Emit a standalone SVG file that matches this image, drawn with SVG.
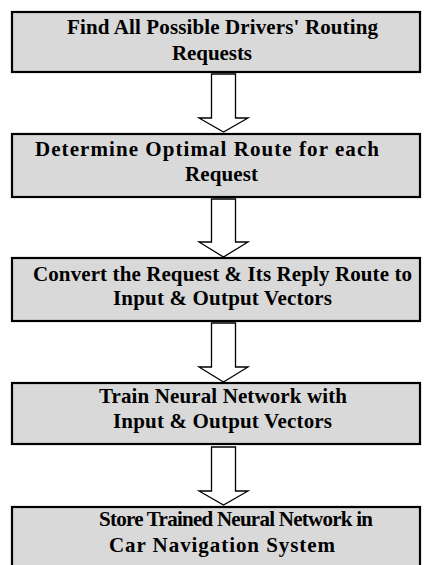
<svg xmlns="http://www.w3.org/2000/svg" width="424" height="565" viewBox="0 0 424 565">
<style>
.box{fill:#d9d9d9;stroke:#000;stroke-width:2.2}
.arr{fill:#fff;stroke:#000;stroke-width:1.3;stroke-linejoin:miter}
</style>
<rect width="424" height="565" fill="#fff"/>
<g id="connectors">
<path class="arr" d="M211.5,74 H235.5 V118 H248 L223.5,132 L199,118 H211.5 Z"/>
<path class="arr" d="M211.5,199 H235.5 V242 H248 L223.5,257 L199,242 H211.5 Z"/>
<path class="arr" d="M211.5,323 H235.5 V367 H248 L223.5,382 L199,367 H211.5 Z"/>
<path class="arr" d="M211.5,447 H235.5 V491 H248 L223.5,505 L199,491 H211.5 Z"/>
</g>
<g font-family="'Liberation Serif', 'Times New Roman', serif" font-weight="bold" font-size="21" fill="#000">
<g id="n1"><rect class="box" x="12" y="12" width="408" height="60"/>
<text x="67" y="34" textLength="311" lengthAdjust="spacing">Find All Possible Drivers' Routing</text>
<text x="172" y="60" textLength="80" lengthAdjust="spacing">Requests</text></g>
<g id="n2"><rect class="box" x="12" y="134" width="408" height="63"/>
<text x="35" y="156" textLength="344" lengthAdjust="spacing">Determine Optimal Route for each</text>
<text x="185" y="181" textLength="73" lengthAdjust="spacing">Request</text></g>
<g id="n3"><rect class="box" x="12" y="258" width="408" height="63"/>
<text x="33" y="280.5" textLength="379" lengthAdjust="spacing">Convert the Request &amp; Its Reply Route to</text>
<text x="113" y="305" textLength="219" lengthAdjust="spacing">Input &amp; Output Vectors</text></g>
<g id="n4"><rect class="box" x="12" y="383" width="408" height="61"/>
<text x="99" y="403" textLength="248" lengthAdjust="spacing">Train Neural Network with</text>
<text x="113" y="428" textLength="219" lengthAdjust="spacing">Input &amp; Output Vectors</text></g>
<g id="n5"><rect class="box" x="12" y="507" width="408" height="70"/>
<text x="99" y="526" textLength="274" lengthAdjust="spacing">Store Trained Neural Network in</text>
<text x="109" y="552" textLength="226" lengthAdjust="spacing">Car Navigation System</text></g>
</g>
</svg>
